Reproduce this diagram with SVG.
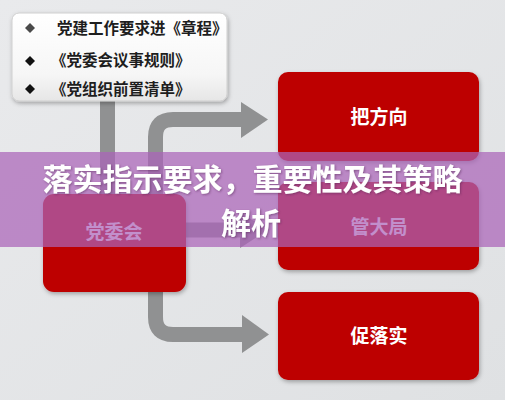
<svg xmlns="http://www.w3.org/2000/svg" width="505" height="400" viewBox="0 0 505 400">
<defs>
<linearGradient id="bg" x1="0" y1="0" x2="1" y2="1">
<stop offset="0" stop-color="#e9eaec"/>
<stop offset="1" stop-color="#dfe1e3"/>
</linearGradient>
<linearGradient id="wbox" x1="0" y1="0" x2="0" y2="1">
<stop offset="0" stop-color="#ffffff"/>
<stop offset="0.7" stop-color="#f6f6f6"/>
<stop offset="1" stop-color="#e6e6e6"/>
</linearGradient>
<filter id="sh" x="-10%" y="-10%" width="125%" height="130%">
<feDropShadow dx="1" dy="2" stdDeviation="2" flood-color="#000" flood-opacity="0.3"/>
</filter>
<filter id="tsh" x="-5%" y="-20%" width="110%" height="150%">
<feDropShadow dx="1" dy="1" stdDeviation="1" flood-color="#502050" flood-opacity="0.5"/>
</filter>
<style>
.red{fill:#bd0000;filter:url(#sh)}
.lbl{font-family:"Noto Sans CJK SC","Noto Sans",sans-serif;font-weight:bold;font-size:19px;fill:#ffffff;text-anchor:middle}
.item{font-family:"Noto Sans CJK SC","Noto Sans",sans-serif;font-weight:bold;font-size:15.5px;fill:#1e1e1e}
.conn{fill:none;stroke:#909192;stroke-width:15}
.head{fill:#909192}
.title{font-family:"Noto Sans CJK SC","Noto Sans",sans-serif;font-weight:bold;font-size:30px;fill:#ffffff;text-anchor:middle;filter:url(#tsh)}
</style>
</defs>
<rect width="505" height="400" fill="url(#bg)"/>
<g id="connectors">
<path class="conn" d="M107.5 100 V196"/>
<path class="conn" d="M155.5 196 V137 Q155.5 119.5 173 119.5 H242"/>
<polygon class="head" points="241,102 268,119.5 241,138"/>
<path class="conn" d="M185 230 H241"/>
<polygon class="head" points="240,212 268,230 240,248"/>
<path class="conn" d="M155.5 290 V317 Q155.5 334.5 173 334.5 H243"/>
<polygon class="head" points="242,315 269,334.5 242,353"/>
</g>
<g id="requirements">
<rect x="12" y="13" width="215" height="88" rx="7" fill="url(#wbox)" stroke="#cfcfcf" stroke-width="1" filter="url(#sh)"/>
<polygon points="30,23 35,28 30,33 25,28" fill="#4a4a4a"/>
<polygon points="30,56 35,61 30,66 25,61" fill="#111"/>
<polygon points="30,84 35,89 30,94 25,89" fill="#111"/>
<text class="item" x="57" y="33.5">党建工作要求进《章程》</text>
<text class="item" x="51" y="65.5">《党委会议事规则》</text>
<text class="item" x="51" y="94.5">《党组织前置清单》</text>
</g>
<g id="dangweihui">
<rect class="red" x="43" y="194" width="143" height="98" rx="11"/>
<text class="lbl" x="114" y="239">党委会</text>
</g>
<g id="bafangxiang">
<rect class="red" x="278" y="72" width="201" height="89" rx="10"/>
<text class="lbl" x="379" y="124">把方向</text>
</g>
<g id="guandaju">
<rect class="red" x="278" y="182" width="201" height="88" rx="10"/>
<text class="lbl" x="379" y="234">管大局</text>
</g>
<g id="cuoluoshi">
<rect class="red" x="278" y="292" width="201" height="88" rx="10"/>
<text class="lbl" x="379" y="343">促落实</text>
</g>
<g id="banner">
<rect x="0" y="152" width="505" height="95" fill="#aa64b9" fill-opacity="0.72"/>
<text class="title"><tspan x="252.5" y="190">落实指示要求，重要性及其策略</tspan><tspan x="251" y="233.5">解析</tspan></text>
</g>
</svg>
